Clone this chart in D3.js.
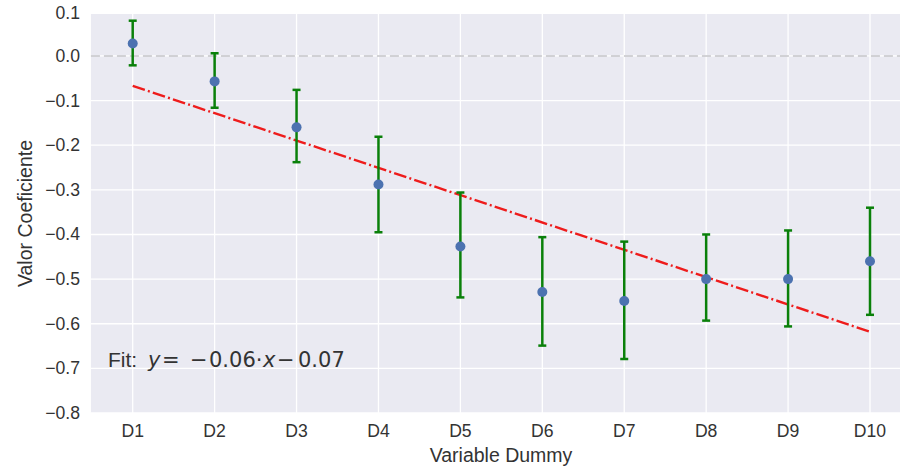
<!DOCTYPE html>
<html>
<head>
<meta charset="utf-8">
<script src="https://cdn.jsdelivr.net/npm/d3@7"></script>
<style>
	body { margin: 0; background: #fff; }
	text { font-family: "Liberation Sans", Arial, sans-serif; fill: #333; }
</style>
</head>
<body>
<svg width="900" height="472"></svg>
<script>
// Data
var categories = ['D1', 'D2', 'D3', 'D4', 'D5', 'D6', 'D7', 'D8', 'D9', 'D10'];
var coef = [0.028, -0.057, -0.160, -0.288, -0.427, -0.529, -0.549, -0.500, -0.500, -0.460];
var ci_low = [-0.021, -0.116, -0.238, -0.395, -0.541, -0.649, -0.679, -0.593, -0.606, -0.580];
var ci_high = [0.079, 0.006, -0.076, -0.181, -0.306, -0.406, -0.416, -0.400, -0.391, -0.340];
var fit_ends = [-0.067, -0.618]; // fitted line at D1 and D10
var y_ticks = [0.1, 0.0, -0.1, -0.2, -0.3, -0.4, -0.5, -0.6, -0.7, -0.8];

var plot_top = 14, plot_bottom = 413;
var y_top = 0.094, y_bottom = -0.8;

var svg = d3.select('svg');
var x = d3.scaleLinear().domain([0, 9]).range([132.7, 870]);
var y = d3.scaleLinear().domain([y_bottom, y_top]).range([plot_bottom, plot_top]);
var x_lo = x(-0.51), x_hi = x(9.51);

// Background
svg.append('rect')
	.attr('x', x_lo)
	.attr('y', y(y_top))
	.attr('width', x_hi - x_lo)
	.attr('height', y(y_bottom) - y(y_top))
	.attr('fill', '#eaeaf2');

// Grid
var grid = svg.append('g');
grid.selectAll('.hgrid')
	.data(y_ticks.filter(d => d <= y_top))
	.enter().append('line')
	.attr('x1', x_lo).attr('x2', x_hi)
	.attr('y1', d => y(d)).attr('y2', d => y(d))
	.attr('stroke', '#fff').attr('stroke-width', 1.3);
grid.selectAll('.vgrid')
	.data(categories)
	.enter().append('line')
	.attr('x1', (d, i) => x(i)).attr('x2', (d, i) => x(i))
	.attr('y1', y(y_top)).attr('y2', y(y_bottom))
	.attr('stroke', '#fff').attr('stroke-width', 1.3);

// Zero line
svg.append('line')
	.attr('x1', x_lo).attr('x2', x_hi)
	.attr('y1', y(0)).attr('y2', y(0))
	.attr('stroke', '#c4c4c8').attr('stroke-width', 1.6)
	.attr('stroke-dasharray', '9,4');

// Tick labels
svg.selectAll('.ytick')
	.data(y_ticks)
	.enter().append('text')
	.attr('x', 80)
	.attr('y', d => Math.max(y(d), 13))
	.attr('text-anchor', 'end')
	.attr('dominant-baseline', 'central')
	.style('font-size', '17.6px')
	.text(d => d3.format('.1f')(d).replace('-', '\u2212'));
svg.selectAll('.xtick')
	.data(categories)
	.enter().append('text')
	.attr('x', (d, i) => x(i))
	.attr('y', 437)
	.attr('text-anchor', 'middle')
	.style('font-size', '17.6px')
	.text(d => d);

// Axis titles
svg.append('text')
	.attr('x', 501)
	.attr('y', 462)
	.attr('text-anchor', 'middle')
	.style('font-size', '19.5px')
	.text('Variable Dummy');
svg.append('text')
	.attr('transform', 'translate(32,' + (y(y_top) + y(y_bottom)) / 2 + ') rotate(-90)')
	.attr('text-anchor', 'middle')
	.style('font-size', '19.5px')
	.text('Valor Coeficiente');

// Fit line
svg.append('line')
	.attr('x1', x(0)).attr('y1', y(fit_ends[0]))
	.attr('x2', x(9)).attr('y2', y(fit_ends[1]))
	.attr('stroke', '#ee1c1c').attr('stroke-width', 2.4)
	.attr('stroke-dasharray', '12.8,3.2,2,3.2');

// Error bars
var bars = svg.selectAll('.err')
	.data(coef.map((c, i) => ({ i: i, lo: ci_low[i], hi: ci_high[i] })))
	.enter().append('g')
	.attr('stroke', '#0a800a').attr('stroke-width', 2.5);
bars.append('line')
	.attr('x1', d => x(d.i)).attr('x2', d => x(d.i))
	.attr('y1', d => y(d.lo)).attr('y2', d => y(d.hi));
bars.append('line')
	.attr('x1', d => x(d.i) - 4).attr('x2', d => x(d.i) + 4)
	.attr('y1', d => y(d.lo)).attr('y2', d => y(d.lo));
bars.append('line')
	.attr('x1', d => x(d.i) - 4).attr('x2', d => x(d.i) + 4)
	.attr('y1', d => y(d.hi)).attr('y2', d => y(d.hi));

// Points
svg.selectAll('.pt')
	.data(coef)
	.enter().append('circle')
	.attr('cx', (d, i) => x(i))
	.attr('cy', d => y(d))
	.attr('r', 5)
	.attr('fill', '#4c72b0');

// Fit annotation
var math = 'DejaVu Sans, sans-serif';
var label = svg.append('text')
	.attr('y', 367)
	.style('font-size', '21px');
var parts = [
	{ t: 'Fit:', x: 108, f: null, s: 'normal' },
	{ t: 'y', x: 148, f: math, s: 'italic' },
	{ t: '=', x: 162, f: math, s: 'normal' },
	{ t: '\u2212', x: 190, f: math, s: 'normal' },
	{ t: '0.06\u00b7', x: 209, f: math, s: 'normal' },
	{ t: 'x', x: 263, f: math, s: 'italic' },
	{ t: '\u2212', x: 277, f: math, s: 'normal' },
	{ t: '0.07', x: 298, f: math, s: 'normal' }
];
parts.forEach(function(p)
{
	var ts = label.append('tspan').attr('x', p.x).style('font-style', p.s).text(p.t);
	if (p.f) ts.style('font-family', p.f);
});
</script>
</body>
</html>
